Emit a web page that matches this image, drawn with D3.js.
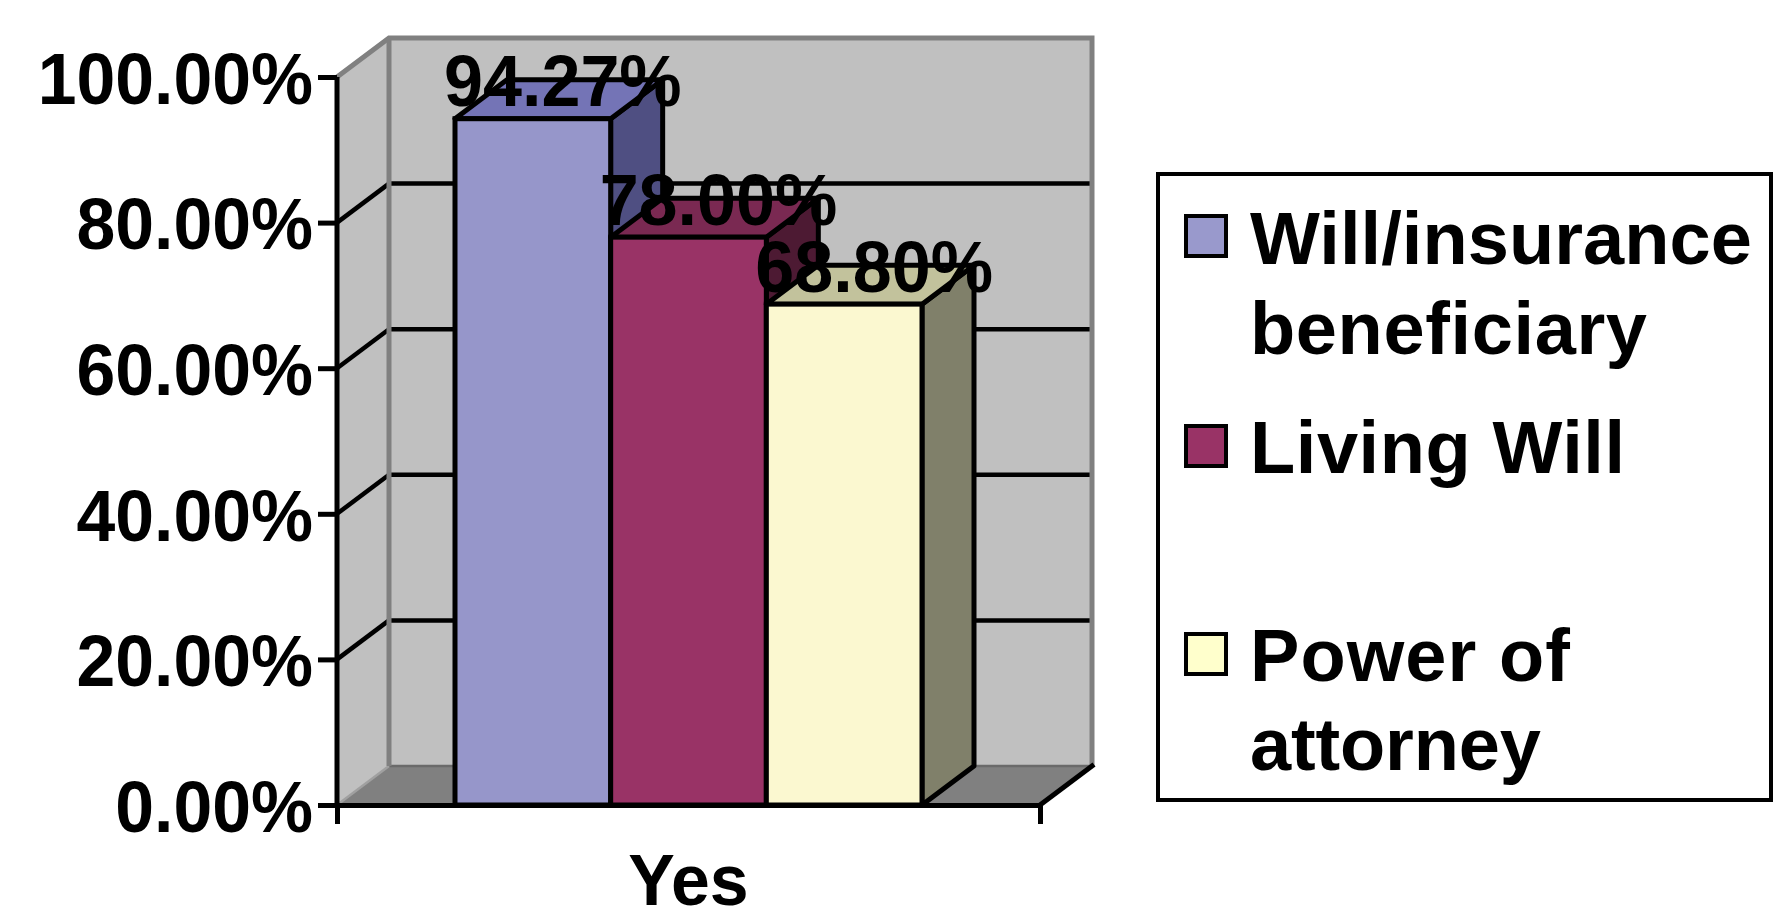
<!DOCTYPE html>
<html><head><meta charset="utf-8">
<script src="https://cdn.jsdelivr.net/npm/d3@7"></script>
<style>
html,body{margin:0;padding:0;background:#fff;}
text{font-family:"Liberation Sans",Arial,sans-serif;font-weight:bold;fill:#000;}
</style></head>
<body>
<svg id="chart" width="1775" height="919"></svg>
<script>
// ---- data ----
const categories = ["Yes"];
const seriesNames = ["Will/insurance beneficiary", "Living Will", "Power of attorney"];
const seriesValues = [0.9427, 0.78, 0.688];
const valueLabels = ["94.27%", "78.00%", "68.80%"];
const yTicks = [0, 0.2, 0.4, 0.6, 0.8, 1.0];
const legendLines = [["Will/insurance", "beneficiary"], ["Living Will"], ["Power of", "attorney"]];

// ---- styles ----
const frontColors = ["#9696CA", "#993366", "#FBF8D0"];
const topColors = ["#7474B6", "#7A2952", "#C2C29C"];
const sideColors = ["#4F4F82", "#4D1A33", "#80806A"];
const legendColors = ["#9999CC", "#993366", "#FFFFCC"];

const svg = d3.select("#chart");
const dx = 52, dy = -39;
const y = d3.scaleLinear().domain([0, 1]).range([805, 77]);
const xCat = d3.scaleBand().domain(categories).range([337, 1040]);
const xCatEdge = d3.scaleLinear().domain([0, 1]).range([337, 1040]);
const xSeries = d3.scaleBand().domain(seriesNames).range([455, 922]);

const x0 = xCatEdge(0), x1 = xCatEdge(1), yTop = y(1), yBot = y(0);

// condense text horizontally a little (the reference glyphs are taller than wide)
function condense(sel, k) {
  sel.each(function () {
    const w = this.getComputedTextLength();
    d3.select(this).attr("textLength", w * k).attr("lengthAdjust", "spacingAndGlyphs");
  });
}

// walls
svg.append("polygon")
  .attr("points", [[x0, yBot], [x0 + dx, yBot + dy], [x0 + dx, yTop + dy], [x0, yTop]].join(" "))
  .attr("fill", "#C0C0C0");
svg.append("rect")
  .attr("x", x0 + dx).attr("y", yTop + dy).attr("width", x1 - x0).attr("height", yBot - yTop)
  .attr("fill", "#C0C0C0");
// floor
svg.append("polygon")
  .attr("points", [[x0, yBot], [x1, yBot], [x1 + dx, yBot + dy], [x0 + dx, yBot + dy]].join(" "))
  .attr("fill", "#808080");
svg.append("line").attr("x1", x0 + dx).attr("x2", x1 + dx).attr("y1", yBot + dy).attr("y2", yBot + dy)
  .attr("stroke", "#6A6A6A").attr("stroke-width", 2.5);
svg.append("line").attr("x1", x0).attr("y1", yBot).attr("x2", x0 + dx).attr("y2", yBot + dy)
  .attr("stroke", "#A0A0A0").attr("stroke-width", 2.5);

// gridlines
const grid = yTicks.filter(t => t > 0 && t < 1);
svg.selectAll(".gb").data(grid).join("line")
  .attr("x1", x0 + dx).attr("x2", x1 + dx)
  .attr("y1", d => y(d) + dy).attr("y2", d => y(d) + dy)
  .attr("stroke", "#000").attr("stroke-width", 4.5);
svg.selectAll(".gl").data(grid).join("line")
  .attr("x1", x0).attr("x2", x0 + dx)
  .attr("y1", d => y(d)).attr("y2", d => y(d) + dy)
  .attr("stroke", "#000").attr("stroke-width", 4.5);

// wall edges (gray)
svg.append("path")
  .attr("d", `M${x0},${yTop} L${x0 + dx},${yTop + dy} L${x1 + dx},${yTop + dy} L${x1 + dx},${yBot + dy}`)
  .attr("fill", "none").attr("stroke", "#808080").attr("stroke-width", 5).attr("stroke-linejoin", "miter");
svg.append("line").attr("x1", x0 + dx).attr("x2", x0 + dx).attr("y1", yTop + dy).attr("y2", yBot + dy)
  .attr("stroke", "#808080").attr("stroke-width", 5);

// floor right edge
svg.append("line").attr("x1", x1).attr("y1", yBot).attr("x2", x1 + dx + 2).attr("y2", yBot + dy - 1.5)
  .attr("stroke", "#000").attr("stroke-width", 5);

// bars
const bars = svg.append("g");
seriesNames.forEach((s, i) => {
  const v = seriesValues[i];
  const xl = xSeries(s), xr = xl + xSeries.bandwidth();
  const yt = y(v), yb = y(0);
  const g = bars.append("g");
  g.append("polygon").attr("points", [[xr, yb], [xr + dx, yb + dy], [xr + dx, yt + dy], [xr, yt]].join(" "))
    .attr("fill", sideColors[i]).attr("stroke", "#000").attr("stroke-width", 5).attr("stroke-linejoin", "round");
  g.append("polygon").attr("points", [[xl, yt], [xr, yt], [xr + dx, yt + dy], [xl + dx, yt + dy]].join(" "))
    .attr("fill", topColors[i]).attr("stroke", "#000").attr("stroke-width", 5).attr("stroke-linejoin", "round");
  g.append("rect").attr("x", xl).attr("y", yt).attr("width", xr - xl).attr("height", yb - yt)
    .attr("fill", frontColors[i]).attr("stroke", "#000").attr("stroke-width", 5);
});

// y axis
const yAxis = d3.axisLeft(y).tickValues(yTicks).tickFormat(d3.format(".2%")).tickSize(19).tickPadding(5);
const ya = svg.append("g").attr("transform", `translate(${x0},0)`).call(yAxis);
ya.select(".domain").attr("stroke", "#000").attr("stroke-width", 5).attr("d", `M0,${yTop}V${yBot}`);
ya.selectAll(".tick line").attr("stroke", "#000").attr("stroke-width", 5);
ya.selectAll(".tick text").attr("font-size", 73).attr("font-family", "Liberation Sans, Arial, sans-serif")
  .attr("font-weight", "bold").attr("fill", "#000").attr("dy", "0.36em");
condense(ya.selectAll(".tick text"), 0.955);

// x axis
const xAxis = d3.axisBottom(xCatEdge).tickValues([0, 1]).tickFormat("").tickSize(19).tickSizeOuter(0);
const xa = svg.append("g").attr("transform", `translate(0,${yBot})`).call(xAxis);
xa.select(".domain").attr("stroke", "#000").attr("stroke-width", 5);
xa.selectAll(".tick line").attr("stroke", "#000").attr("stroke-width", 5);
const cat = svg.selectAll(".cat").data(categories).join("text")
  .attr("x", d => xCat(d) + xCat.bandwidth() / 2).attr("y", 905)
  .attr("text-anchor", "middle").attr("font-size", 72).text(d => d);
condense(cat, 0.97);

// value labels
const vl = svg.selectAll(".vl").data(seriesNames).join("text")
  .attr("x", (d, i) => xSeries(d) + xSeries.bandwidth() / 2 + dx / 2 + 4)
  .attr("y", (d, i) => y(seriesValues[i]) + dy / 2 + 7)
  .attr("text-anchor", "middle").attr("font-size", 73)
  .text((d, i) => valueLabels[i]);
condense(vl, 0.96);

// legend
const lg = svg.append("g");
lg.append("rect").attr("x", 1158).attr("y", 174).attr("width", 613).attr("height", 626)
  .attr("fill", "#fff").attr("stroke", "#000").attr("stroke-width", 4);
const swatchY = [216, 426, 634];
const lineBase = [[264, 354], [473], [681, 770]];
const lineWidths = {"Will/insurance": 502, "beneficiary": 397, "Living Will": 375, "Power of": 320, "attorney": 291};
seriesNames.forEach((s, i) => {
  lg.append("rect").attr("x", 1186).attr("y", swatchY[i]).attr("width", 40).attr("height", 40)
    .attr("fill", legendColors[i]).attr("stroke", "#000").attr("stroke-width", 4);
  legendLines[i].forEach((t, j) => {
    lg.append("text").attr("x", 1250).attr("y", lineBase[i][j]).attr("font-size", 74)
      .attr("textLength", lineWidths[t]).attr("lengthAdjust", "spacing").text(t);
  });
});
</script>
</body></html>
